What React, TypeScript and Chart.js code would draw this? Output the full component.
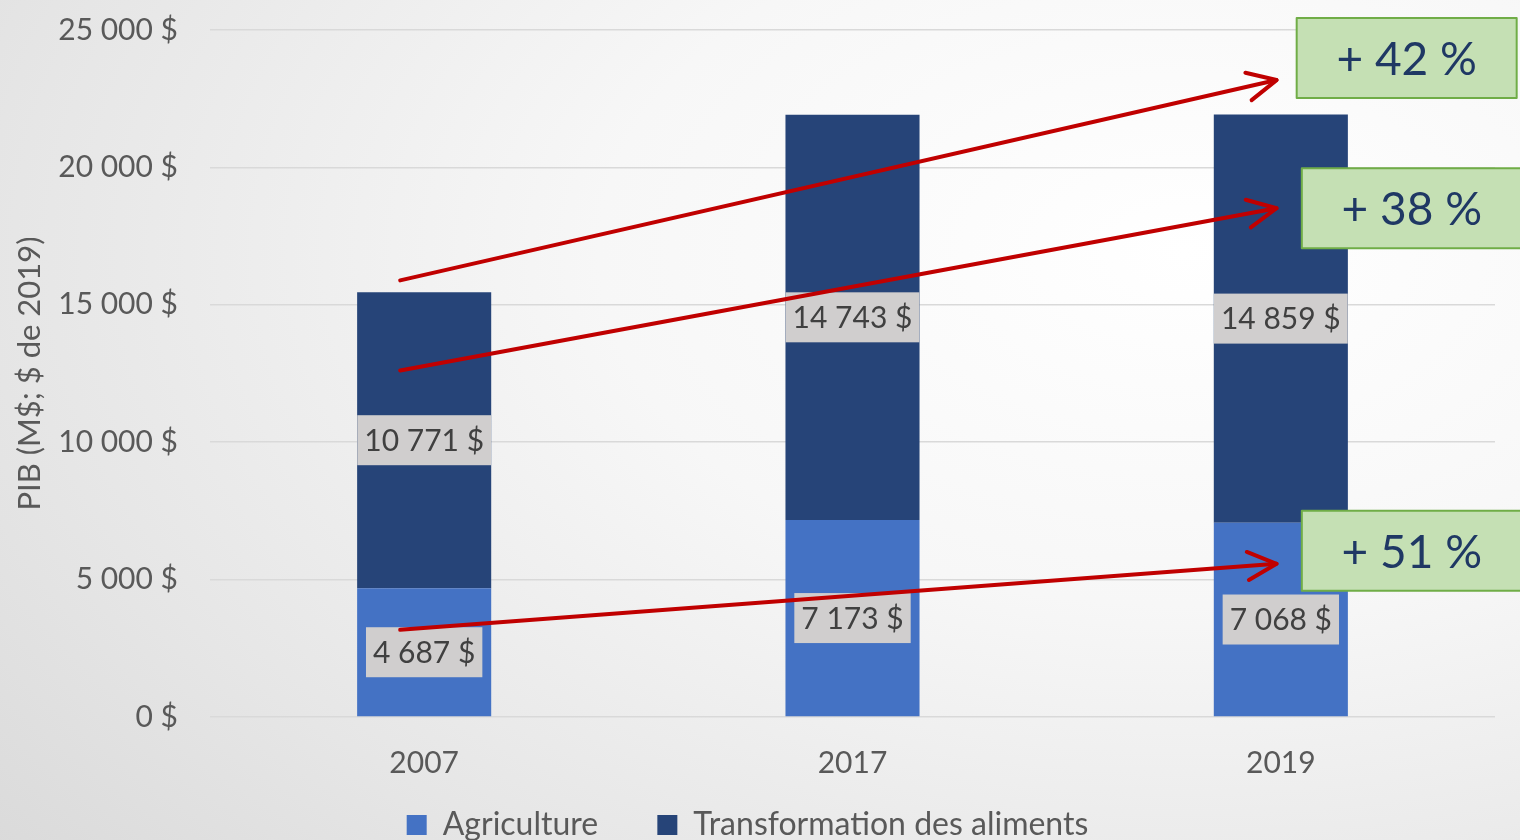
import React, { useEffect, useRef } from "react";
import { Chart, registerables } from "chart.js";

Chart.register(...registerables);

const categories = ["2007", "2017", "2019"];
const agriculture = [4687, 7173, 7068];
const transformation = [10771, 14743, 14859];
const yTicks = [0, 5000, 10000, 15000, 20000, 25000];
const seriesNames = ["Agriculture", "Transformation des aliments"];

// Growth arrows, in data units (category index, value)
const arrowFromIndex = [-0.056, -0.056, -0.056];
const arrowFromValue = [15889, 12609, 3171];
const arrowToIndex = [1.99, 1.99, 1.99];
const arrowToValue = [23178, 18513, 5576];
const growthLabels = ["+ 42 %", "+ 38 %", "+ 51 %"];
const growthBoxIndex = [2.037, 2.049, 2.049];
const growthBoxValue = [23980, 18513, 6050];

const FONT = "Lato, 'DejaVu Sans', sans-serif";
const TEXT = "#595959";

const fmt = (v: number) =>
  Math.round(v).toString().replace(/\B(?=(\d{3})+(?!\d))/g, " ") + " $";

const labelPlugin = {
  id: "segmentLabels",
  afterDatasetsDraw(chart: any) {
    const ctx = chart.ctx;
    ctx.save();
    ctx.font = `30px ${FONT}`;
    ctx.textAlign = "center";
    ctx.textBaseline = "middle";
    chart.data.datasets.forEach((ds: any, di: number) => {
      const meta = chart.getDatasetMeta(di);
      meta.data.forEach((el: any, i: number) => {
        const v = ds.data[i];
        const txt = fmt(v);
        const cx = el.x;
        const cy = (el.y + el.base) / 2;
        const w = ctx.measureText(txt).width + 14;
        const h = 50;
        ctx.fillStyle = "#d0cece";
        ctx.fillRect(cx - w / 2, cy - h / 2, w, h);
        ctx.fillStyle = "#404040";
        ctx.fillText(txt, cx, cy + 1);
      });
    });
    ctx.restore();
  },
};

const annotationPlugin = {
  id: "growthArrows",
  afterDraw(chart: any) {
    const ctx = chart.ctx;
    const xs = chart.scales.x;
    const ys = chart.scales.y;
    ctx.save();
    ctx.strokeStyle = "#c00000";
    ctx.lineWidth = 4;
    ctx.lineCap = "round";
    ctx.lineJoin = "round";
    for (let i = 0; i < arrowFromIndex.length; i++) {
      const x1 = xs.getPixelForValue(arrowFromIndex[i]);
      const y1 = ys.getPixelForValue(arrowFromValue[i]);
      const x2 = xs.getPixelForValue(arrowToIndex[i]);
      const y2 = ys.getPixelForValue(arrowToValue[i]);
      ctx.beginPath();
      ctx.moveTo(x1, y1);
      ctx.lineTo(x2, y2);
      ctx.stroke();
      const ang = Math.atan2(y2 - y1, x2 - x1);
      const len = 32;
      const spread = (26 * Math.PI) / 180;
      ctx.beginPath();
      ctx.moveTo(x2 - len * Math.cos(ang - spread), y2 - len * Math.sin(ang - spread));
      ctx.lineTo(x2, y2);
      ctx.lineTo(x2 - len * Math.cos(ang + spread), y2 - len * Math.sin(ang + spread));
      ctx.stroke();
    }
    ctx.font = `46px ${FONT}`;
    ctx.textAlign = "center";
    ctx.textBaseline = "middle";
    for (let i = 0; i < growthLabels.length; i++) {
      const left = xs.getPixelForValue(growthBoxIndex[i]);
      const cy = ys.getPixelForValue(growthBoxValue[i]);
      const w = 220;
      const h = 80;
      ctx.fillStyle = "#c5e0b4";
      ctx.fillRect(left, cy - h / 2, w, h);
      ctx.strokeStyle = "#70ad47";
      ctx.lineWidth = 2;
      ctx.strokeRect(left, cy - h / 2, w, h);
      ctx.fillStyle = "#1f3864";
      ctx.fillText(growthLabels[i], left + w / 2, cy + 2);
    }
    ctx.restore();
  },
};

export default function App() {
  const ref = useRef<HTMLCanvasElement>(null);
  useEffect(() => {
    document.body.style.margin = "0";
    const canvas = ref.current!;
    const chart = new Chart(canvas, {
      type: "bar",
      data: {
        labels: categories,
        datasets: [
          {
            label: seriesNames[0],
            data: agriculture,
            backgroundColor: "#4472c4",
            barPercentage: 0.313,
            categoryPercentage: 1,
          },
          {
            label: seriesNames[1],
            data: transformation,
            backgroundColor: "#264478",
            barPercentage: 0.313,
            categoryPercentage: 1,
          },
        ],
      },
      options: {
        animation: false,
        responsive: false,
        maintainAspectRatio: false,
        layout: { padding: { left: 0, right: 25, top: 30, bottom: 0 } },
        plugins: {
          tooltip: { enabled: false },
          legend: {
            position: "bottom",
            labels: {
              font: { family: FONT, size: 32 },
              color: TEXT,
              boxWidth: 20,
              boxHeight: 20,
              padding: 10,
              generateLabels: (chart: any) => {
                const items = Chart.defaults.plugins.legend.labels.generateLabels(chart);
                return items.map((it: any, i: number) => ({
                  ...it,
                  text: i === 0 ? it.text + "      " : it.text,
                  lineWidth: 0,
                }));
              },
            },
          },
        },
        scales: {
          x: {
            stacked: true,
            grid: { display: false },
            border: { display: false },
            ticks: {
              font: { family: FONT, size: 30 },
              color: TEXT,
              padding: 20,
            },
            afterFit: (s: any) => {
              s.height = 82;
            },
          },
          y: {
            stacked: true,
            min: 0,
            max: 25000,
            afterBuildTicks: (s: any) => {
              s.ticks = yTicks.map((v) => ({ value: v }));
            },
            grid: {
              color: "#d9d9d9",
              lineWidth: 1.5,
              drawTicks: true,
              tickLength: 32,
              tickColor: "rgba(0,0,0,0)",
            },
            border: { display: false },
            ticks: {
              font: { family: FONT, size: 30 },
              color: TEXT,
              padding: 0,
              callback: (v: any) => fmt(Number(v)),
            },
            title: {
              display: true,
              text: "PIB (M$; $ de 2019)",
              font: { family: FONT, size: 31 },
              color: TEXT,
              padding: { top: 11, bottom: 0 },
            },
            afterFit: (s: any) => {
              s.width = 210;
            },
          },
        },
      },
      plugins: [labelPlugin, annotationPlugin],
    });
    return () => chart.destroy();
  }, []);
  return (
    <div
      style={{
        position: "fixed",
        left: 0,
        top: 0,
        width: 1520,
        height: 840,
        overflow: "hidden",
        background:
          "radial-gradient(ellipse 110% 120% at 78% 30%, #ffffff 0%, #f7f7f7 35%, #e6e6e6 70%, #d6d6d6 100%)",
      }}
    >
      <canvas ref={ref} width={1520} height={851} style={{ display: "block" }} />
    </div>
  );
}
